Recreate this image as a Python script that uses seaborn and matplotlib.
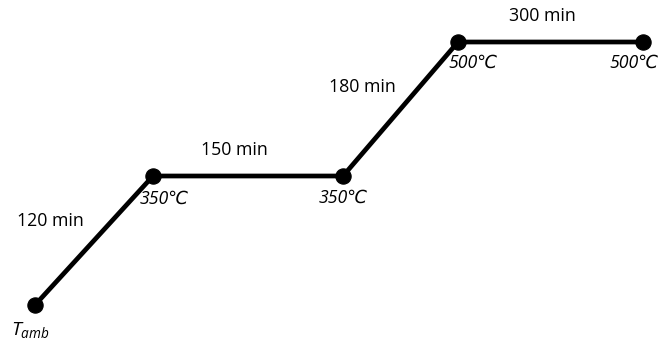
import matplotlib
matplotlib.use("Agg")
import matplotlib.pyplot as plt
import seaborn as sns
import pandas as pd

# Schematic heating profile (positions, schematic units)
stage_x = [35, 153, 343, 458, 643]
stage_y = [305, 176, 176, 42, 42]
temp_labels = [r"$T_{amb}$", "350℃", "350℃", "500℃", "500℃"]
durations = ["120 min", "150 min", "180 min", "300 min"]

df = pd.DataFrame({"x": stage_x, "y": stage_y})

sns.set_theme(style="white")
plt.rcParams["font.family"] = ["Open Sans", "DejaVu Sans"]
plt.rcParams["mathtext.fontset"] = "custom"
plt.rcParams["mathtext.it"] = "Open Sans:italic"
plt.rcParams["mathtext.rm"] = "Open Sans"

fig = plt.figure(figsize=(6.62, 3.46), dpi=100)
ax = fig.add_axes([0, 0, 1, 1])
sns.lineplot(data=df, x="x", y="y", sort=False, color="black", linewidth=3.4, ax=ax)
sns.scatterplot(data=df, x="x", y="y", color="black", s=120, edgecolor="black", zorder=3, ax=ax)

ax.set_xlim(0, 662)
ax.set_ylim(346, 0)
ax.set_axis_off()

fs = 12.8
# temperature labels
temp_offsets = [(-5, 25), (11, 23), (0, 22), (15, 21), (-9, 21)]
temp_sizes = [14, fs, fs, fs, fs]
for (x, y), lab, (dx, dy), s in zip(zip(stage_x, stage_y), temp_labels, temp_offsets, temp_sizes):
    ax.text(x + dx, y + dy, lab, ha="center", va="center", fontsize=s,
            style="italic", color="black")

# duration labels
dur_offsets = [(-44, -19), (-14, -26), (-38, -22), (-8, -26)]
for i, (lab, (dx, dy)) in enumerate(zip(durations, dur_offsets)):
    mx = (stage_x[i] + stage_x[i + 1]) / 2
    my = (stage_y[i] + stage_y[i + 1]) / 2
    ax.text(mx + dx, my + dy, lab, ha="center", va="center", fontsize=fs, color="black")

fig.savefig("out.png", dpi=100)
